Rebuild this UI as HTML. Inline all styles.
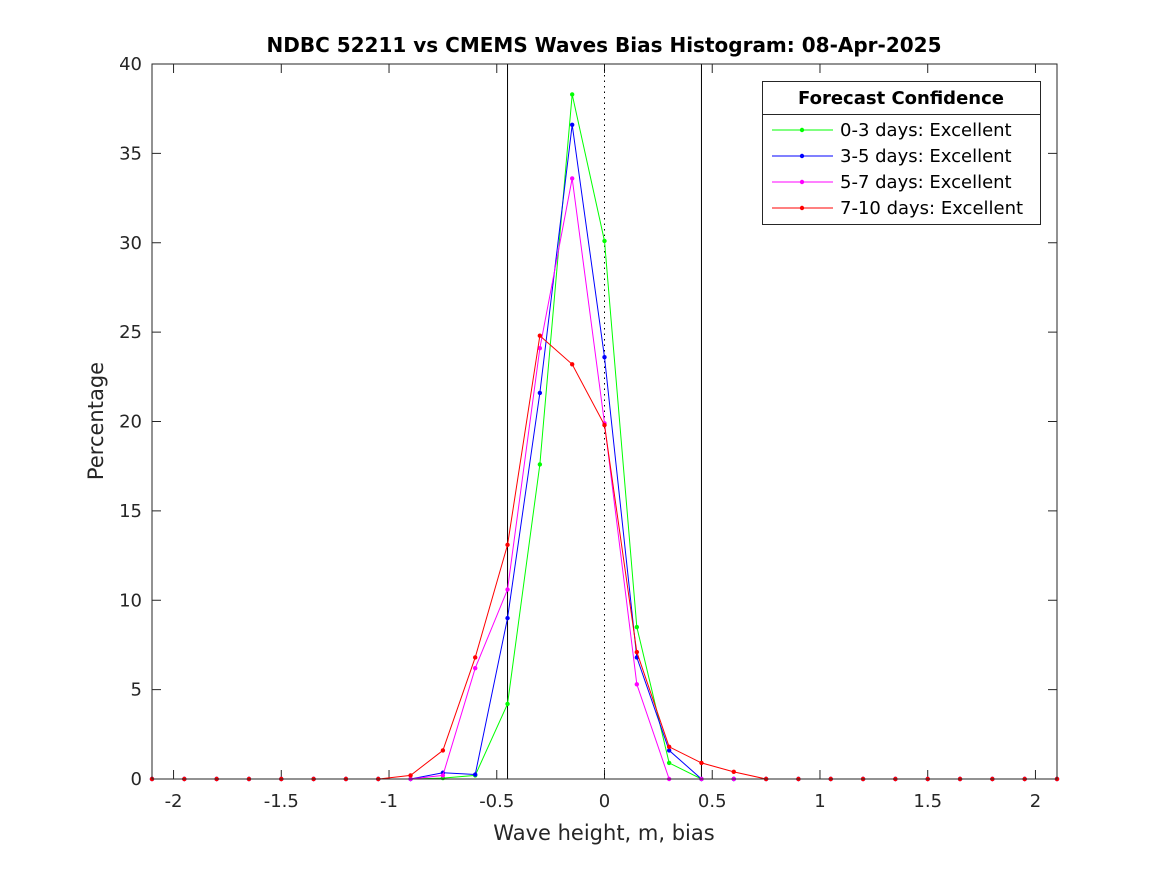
<!DOCTYPE html>
<html><head><meta charset="utf-8"><style>
body{margin:0;background:#fff;}
svg{display:block;font-family:"DejaVu Sans","Liberation Sans",sans-serif;}
</style></head><body>
<svg id="chart" width="1167" height="875" viewBox="0 0 1167 875" xmlns="http://www.w3.org/2000/svg">
<rect width="1167" height="875" fill="#fff"/>
<text x="604" y="52" text-anchor="middle" font-size="20" font-weight="bold" fill="#000">NDBC 52211 vs CMEMS Waves Bias Histogram: 08-Apr-2025</text>
<text x="604" y="840" text-anchor="middle" font-size="21" fill="#262626">Wave height, m, bias</text>
<text transform="translate(103,421) rotate(-90)" text-anchor="middle" font-size="21" fill="#262626">Percentage</text>
<g id="grid"></g>
<g id="series"></g>
<rect x="152" y="64" width="905" height="715" fill="none" stroke="#262626" stroke-width="1"/>
<g id="legend">
<rect x="762.5" y="81.5" width="278" height="143" fill="#fff" stroke="#262626"/>
<line x1="762.5" y1="114.5" x2="1040.5" y2="114.5" stroke="#262626"/>
<text x="901" y="104" text-anchor="middle" font-size="18" font-weight="bold">Forecast Confidence</text>
</g>
</svg>
<script>
const xValues=[-2.1,-1.95,-1.8,-1.65,-1.5,-1.35,-1.2,-1.05,-0.9,-0.75,-0.6,-0.45,-0.3,-0.15,0,0.15,0.3,0.45,0.6,0.75,0.9,1.05,1.2,1.35,1.5,1.65,1.8,1.95,2.1];
const green=[0,0,0,0,0,0,0,0,0,0.05,0.2,4.2,17.6,38.3,30.1,8.5,0.9,0,0,0,0,0,0,0,0,0,0,0,0];
const blue=[0,0,0,0,0,0,0,0,0,0.35,0.25,9.0,21.6,36.6,23.6,6.8,1.6,0,0,0,0,0,0,0,0,0,0,0,0];
const magenta=[0,0,0,0,0,0,0,0,0,0.2,6.2,10.6,24.1,33.6,19.9,5.3,0,0,0,0,0,0,0,0,0,0,0,0,0];
const red=[0,0,0,0,0,0,0,0,0.2,1.6,6.8,13.1,24.8,23.2,19.8,7.1,1.8,0.9,0.4,0,0,0,0,0,0,0,0,0,0];
const seriesNames=["0-3 days: Excellent","3-5 days: Excellent","5-7 days: Excellent","7-10 days: Excellent"];
const seriesColors=["#00ff00","#0000ff","#ff00ff","#ff0000"];
const xTicks=[-2,-1.5,-1,-0.5,0,0.5,1,1.5,2];
const yTicks=[0,5,10,15,20,25,30,35,40];
const refLines=[-0.45,0.45];
const NS="http://www.w3.org/2000/svg";
const X=v=>604.5+(v)*(905/4.2);
const Y=v=>779-v*(715/40);
function mk(t,a,p){const e=document.createElementNS(NS,t);for(const k in a)e.setAttribute(k,a[k]);p.appendChild(e);return e;}
const grid=document.getElementById('grid'),ser=document.getElementById('series'),leg=document.getElementById('legend');
xTicks.forEach(t=>{
 const x=X(t);
 const l1=mk('line',{x1:x,y1:779,x2:x,y2:770,stroke:'#262626'},grid);
 
 
 const l2=mk('line',{x1:x,y1:64,x2:x,y2:73,stroke:'#262626'},grid);
 
 
 const tx=mk('text',{x:x,y:807,'text-anchor':'middle','font-size':'18',fill:'#262626'},grid);
 tx.textContent=String(t);
 
 
});
yTicks.forEach(t=>{
 const y=Y(t);
 const l1=mk('line',{x1:152,y1:y,x2:161,y2:y,stroke:'#262626'},grid);
 
 
 const l2=mk('line',{x1:1057,y1:y,x2:1048,y2:y,stroke:'#262626'},grid);
 
 
 const tx=mk('text',{x:142,y:y+6,'text-anchor':'end','font-size':'18',fill:'#262626'},grid);
 tx.textContent=String(t);
 
 
});
refLines.forEach(r=>{
 const l=mk('line',{x1:X(r),y1:64,x2:X(r),y2:779,stroke:'#000','stroke-width':1},grid);
 
 
});
const zl=mk('line',{x1:X(0),y1:64,x2:X(0),y2:779,stroke:'#000','stroke-dasharray':'1.5,4'},grid);


[green,blue,magenta,red].forEach((s,i)=>{
 const g=mk('g',{},ser);
 
 
 const pts=s.map((v,j)=>X(xValues[j])+','+Y(v)).join(' ');
 const pl=mk('polyline',{points:pts,fill:'none',stroke:seriesColors[i],'stroke-width':1},g);
 
 
 s.forEach((v,j)=>{
  const c=mk('circle',{cx:X(xValues[j]),cy:Y(v),r:2.2,fill:seriesColors[i]},g);
  
  
 });
 const ly=130+i*26;
 const ll=mk('line',{x1:772,y1:ly,x2:833,y2:ly,stroke:seriesColors[i]},leg);
 
 
 mk('circle',{cx:802,cy:ly,r:2.2,fill:seriesColors[i]},leg);
 const lt=mk('text',{x:840,y:ly+6,'font-size':'18',fill:'#000'},leg);
 lt.textContent=seriesNames[i];
 
 
});
</script>
</body></html>
